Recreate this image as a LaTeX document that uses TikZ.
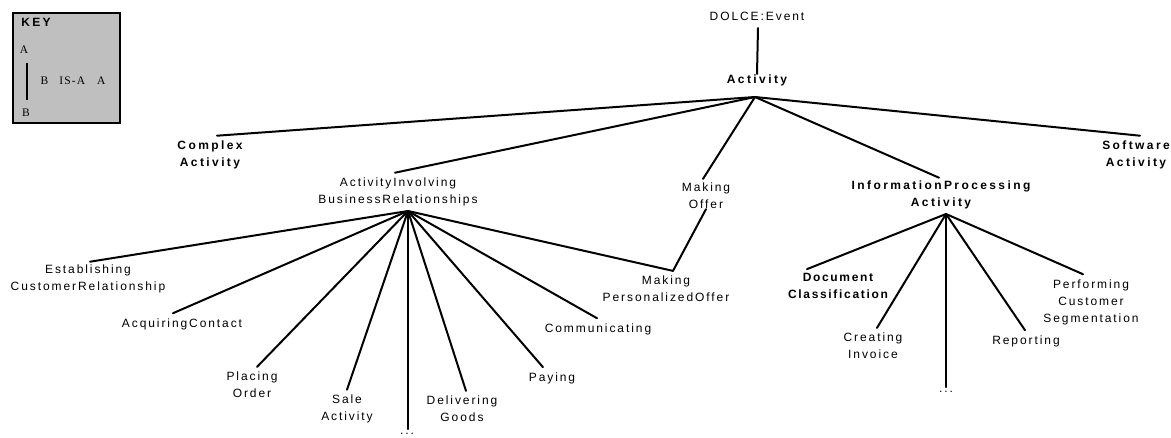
\documentclass[tikz,border=0pt]{standalone}
\usepackage{fontspec}
\setmainfont{Liberation Sans}[LetterSpace=16,BoldFeatures={LetterSpace=20}]
\newfontfamily\keyserif{Liberation Serif}[LetterSpace=10]
\newfontfamily\docfont{Liberation Sans}[LetterSpace=14,BoldFeatures={LetterSpace=14}]
\begin{document}
\begin{tikzpicture}[x=1pt,y=-1pt,
  lbl/.style={inner sep=0pt,align=center,font=\fontsize{12}{17}\selectfont},
  blbl/.style={lbl,font=\fontsize{12}{17}\selectfont\bfseries},
  isa/.style={line width=2pt,line cap=round},
  keytxt/.style={inner sep=0pt,font=\fontsize{11.5}{12}\selectfont\keyserif}]
\useasboundingbox (0,0) rectangle (1171,437);
% key
\node[draw,line width=2pt,fill=black!25,minimum width=107pt,minimum height=110pt,inner sep=0pt] (key) at (66.5,68) {};
\node[inner sep=0pt,font=\fontsize{12}{12}\selectfont\bfseries] (keyt) at (36,22) {KEY};
\node[keytxt] (ka) at (24,50) {A};
\node[keytxt] (kb) at (26,113) {B};
\coordinate (kl1) at (27,63);
\coordinate (kl2) at (27,100);
\draw[isa,line cap=butt] (kl1) -- (kl2);
\node[keytxt] (kisa) at (73,81) {B\hspace{11pt}IS-A\hspace{12pt}A};
% nodes
\node[lbl] (dolce) at (757,16) {DOLCE:Event};
\node[blbl] (act) at (757,80) {Activity};
\coordinate (actB) at (755,97);
\coordinate (dolceB) at (758,28);
\coordinate (actT) at (757,74);
\node[blbl] (complex) at (210,155) {Complex\\Activity};
\node[lbl] (aibr) at (398,192) {ActivityInvolving\\BusinessRelationships};
\node[lbl] (offer) at (706,196) {Making\\Offer};
\node[blbl] (ipa) at (941,195) {InformationProcessing\\Activity};
\node[blbl] (soft) at (1136,155) {Software\\Activity};
\coordinate (aibrB) at (408,211);
\coordinate (ipaB) at (946,214);
\node[lbl] (estab) at (88,279) {Establishing\\CustomerRelationship};
\node[lbl] (acq) at (182,324) {AcquiringContact};
\node[lbl] (placing) at (252,385) {Placing\\Order};
\node[lbl] (sale) at (347,409) {Sale\\Activity};
\node[lbl] (dots1) at (407,434) {...};
\node[lbl] (deliv) at (462,409) {Delivering\\Goods};
\node[lbl] (paying) at (552,378) {Paying};
\node[lbl] (comm) at (598,329) {Communicating};
\node[lbl] (mpo) at (666,289) {Making\\PersonalizedOffer};
\node[lbl,font=\fontsize{12}{17}\selectfont\docfont\bfseries] (doc) at (838,286) {Document\\Classification};
\node[lbl] (creat) at (873,346) {Creating\\Invoice};
\node[lbl] (dots2) at (946,392) {...};
\node[lbl] (report) at (1026,341) {Reporting};
\node[lbl] (perf) at (1091,302) {Performing\\Customer\\Segmentation};
% connectors
\draw[isa] (dolceB) -- (actT);
\draw[isa] (actB) -- ([xshift=7pt,yshift=5pt]complex.north);
\draw[isa] (actB) -- ([xshift=-3pt,yshift=5pt]aibr.north);
\draw[isa] (actB) -- ([xshift=-3pt,yshift=4pt]offer.north);
\draw[isa] (actB) -- ([xshift=-2pt,yshift=3pt]ipa.north);
\draw[isa] (actB) -- ([xshift=4pt,yshift=5pt]soft.north);
\draw[isa] (aibrB) -- ([xshift=2pt,yshift=3pt]estab.north);
\draw[isa] (aibrB) -- ([xshift=-9pt,yshift=5pt]acq.north);
\draw[isa] (aibrB) -- ([xshift=5pt,yshift=5pt]placing.north);
\draw[isa] (aibrB) -- ([xshift=0pt,yshift=5pt]sale.north);
\draw[isa] (aibrB) -- ([xshift=1pt,yshift=4pt]dots1.north);
\draw[isa] (aibrB) -- ([xshift=4pt,yshift=5pt]deliv.north);
\draw[isa] (aibrB) -- ([xshift=-9pt,yshift=5pt]paying.north);
\draw[isa] (aibrB) -- ([xshift=-1pt,yshift=5pt]comm.north);
\draw[isa] (aibrB) -- ([xshift=7pt,yshift=5pt]mpo.north);
\draw[isa] (offer.south) -- ([xshift=7pt,yshift=5pt]mpo.north);
\draw[isa] (ipaB) -- ([xshift=-31pt,yshift=4pt]doc.north);
\draw[isa] (ipaB) -- ([xshift=4pt,yshift=5pt]creat.north);
\draw[isa] (ipaB) -- ([yshift=4pt]dots2.north);
\draw[isa] (ipaB) -- ([xshift=-1pt,yshift=5pt]report.north);
\draw[isa] (ipaB) -- ([xshift=-8pt,yshift=5pt]perf.north);
\end{tikzpicture}
\end{document}
